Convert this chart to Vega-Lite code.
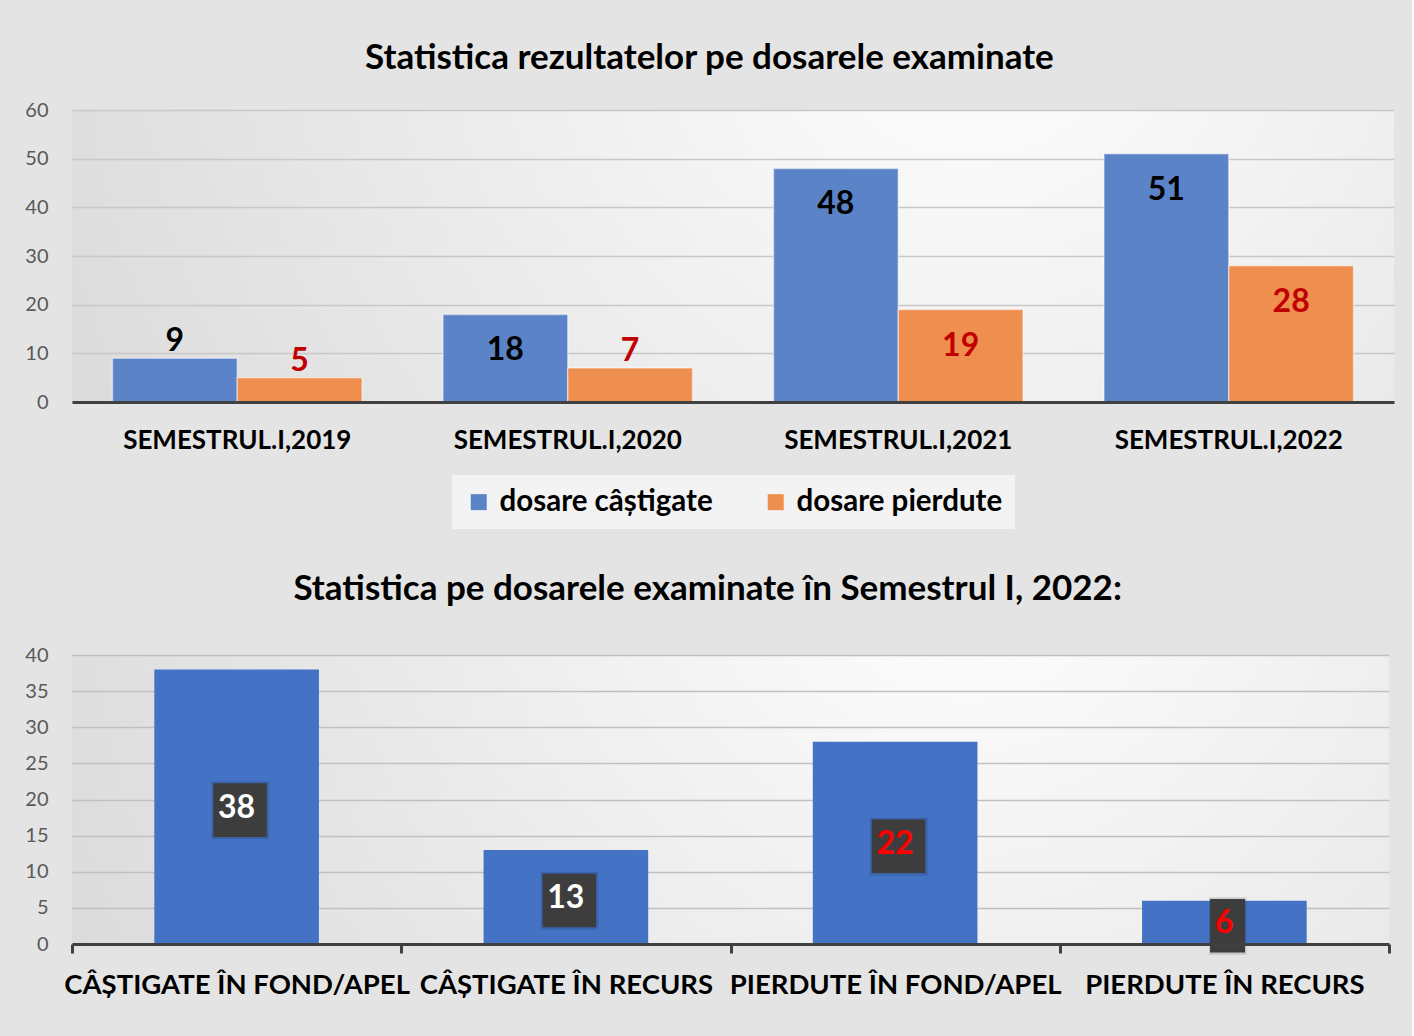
{
  "$schema": "https://vega.github.io/schema/vega-lite/v6.json",
  "background": "#e4e4e4",
  "padding": {"left": 24, "top": 41, "right": 18, "bottom": 40},
  "spacing": 43,
  "config": {
    "font": "Lato",
    "view": {
      "stroke": null,
      "fill": {"gradient": "radial", "x1": 0.68, "y1": 0.3, "r1": 0, "x2": 0.68, "y2": 0.3, "r2": 0.85,
        "stops": [{"offset": 0, "color": "#ffffff"}, {"offset": 1, "color": "#d6d6d6"}]}
    },
    "title": {"font": "Lato", "fontWeight": "bold", "color": "#000000", "anchor": "middle", "frame": "bounds"},
    "legend": {"layout": {"bottom": {"anchor": "middle"}}}
  },
  "resolve": {"scale": {"color": "independent"}, "legend": {"color": "independent"}},
  "datasets": {
    "semestre": [
      {"perioada": "SEMESTRUL.I,2019", "serie": "dosare câștigate", "valoare": 9},
      {"perioada": "SEMESTRUL.I,2019", "serie": "dosare pierdute", "valoare": 5},
      {"perioada": "SEMESTRUL.I,2020", "serie": "dosare câștigate", "valoare": 18},
      {"perioada": "SEMESTRUL.I,2020", "serie": "dosare pierdute", "valoare": 7},
      {"perioada": "SEMESTRUL.I,2021", "serie": "dosare câștigate", "valoare": 48},
      {"perioada": "SEMESTRUL.I,2021", "serie": "dosare pierdute", "valoare": 19},
      {"perioada": "SEMESTRUL.I,2022", "serie": "dosare câștigate", "valoare": 51},
      {"perioada": "SEMESTRUL.I,2022", "serie": "dosare pierdute", "valoare": 28}
    ],
    "categorii": [
      {"categorie": "CÂȘTIGATE ÎN FOND/APEL", "valoare": 38, "eticheta": "38"},
      {"categorie": "CÂȘTIGATE ÎN RECURS", "valoare": 13, "eticheta": "13"},
      {"categorie": "PIERDUTE ÎN FOND/APEL", "valoare": 28, "eticheta": "22"},
      {"categorie": "PIERDUTE ÎN RECURS", "valoare": 6, "eticheta": "6"}
    ]
  },
  "vconcat": [
    {
      "width": 1322,
      "height": 292,
      "title": {"text": "Statistica rezultatelor pe dosarele examinate", "fontSize": 35, "offset": 24},
      "data": {"name": "semestre"},
      "encoding": {
        "x": {"field": "perioada", "type": "nominal", "sort": null,
          "scale": {"paddingInner": 0.245, "paddingOuter": 0.1225},
          "axis": {"title": null, "labelAngle": 0, "labelFontSize": 26, "labelFontWeight": "bold", "labelColor": "#000000",
            "labelPadding": 25, "labelLimit": 400, "ticks": false, "domainColor": "#404040", "domainWidth": 3, "zindex": 1}},
        "xOffset": {"field": "serie", "type": "nominal", "sort": null},
        "y": {"field": "valoare", "type": "quantitative", "scale": {"domain": [0, 60]},
          "axis": {"title": null, "values": [0, 10, 20, 30, 40, 50, 60], "labelFontSize": 20, "labelColor": "#595959",
            "labelPadding": 24, "ticks": false, "domain": false, "gridColor": "#c8c8c8", "gridWidth": 1.5}}
      },
      "layer": [
        {
          "mark": {"type": "bar", "stroke": "#ffffff", "strokeOpacity": 0.45, "strokeWidth": 1.5},
          "encoding": {
            "color": {"field": "serie", "type": "nominal", "sort": null,
              "scale": {"domain": ["dosare câștigate", "dosare pierdute"], "range": ["#5b84c8", "#ef8f4f"]},
              "legend": {"title": null, "orient": "bottom", "direction": "horizontal", "symbolType": "square",
                "symbolSize": 256, "symbolStrokeWidth": 0, "labelFontSize": 29.5, "labelFontWeight": "bold", "labelColor": "#000000",
                "labelLimit": 400, "columnPadding": 48, "offset": 22, "fillColor": "#f3f3f3", "padding": 12, "labelOffset": 6}}
          }
        },
        {
          "transform": [{"filter": "datum.valoare >= 15"}],
          "mark": {"type": "text", "fontSize": 32, "fontWeight": "bold", "baseline": "middle", "dy": 36},
          "encoding": {
            "text": {"field": "valoare", "type": "quantitative"},
            "color": {"condition": {"test": "datum.serie === 'dosare pierdute'", "value": "#c00000"}, "value": "#000000"}
          }
        },
        {
          "transform": [{"filter": "datum.valoare < 15"}],
          "mark": {"type": "text", "fontSize": 32, "fontWeight": "bold", "baseline": "middle", "dy": -17},
          "encoding": {
            "text": {"field": "valoare", "type": "quantitative"},
            "color": {"condition": {"test": "datum.serie === 'dosare pierdute'", "value": "#c00000"}, "value": "#000000"}
          }
        }
      ]
    },
    {
      "width": 1317,
      "height": 289,
      "title": {"text": "Statistica pe dosarele examinate în Semestrul I, 2022:", "fontSize": 35, "offset": 38},
      "data": {"name": "categorii"},
      "encoding": {
        "x": {"field": "categorie", "type": "nominal", "sort": null,
          "scale": {"paddingInner": 0, "paddingOuter": 0},
          "axis": {"title": null, "labelAngle": 0, "labelFontSize": 27.5, "labelFontWeight": "bold", "labelColor": "#000000",
            "labelPadding": 18, "labelLimit": 500, "labelOverlap": false, "ticks": true, "tickBand": "extent", "tickSize": 9, "tickWidth": 3,
            "tickColor": "#404040", "domainColor": "#404040", "domainWidth": 3, "zindex": 1}}
      },
      "layer": [
        {
          "mark": {"type": "bar", "color": "#4472c4", "width": {"band": 0.5}},
          "encoding": {
            "y": {"field": "valoare", "type": "quantitative", "scale": {"domain": [0, 40]},
              "axis": {"title": null, "values": [0, 5, 10, 15, 20, 25, 30, 35, 40], "labelFontSize": 20, "labelColor": "#595959",
                "labelPadding": 24, "ticks": false, "domain": false, "gridColor": "#c0c0c0", "gridWidth": 1.5}}
          }
        },
        {
          "mark": {"type": "point", "filled": true, "opacity": 0.13, "color": "#000000", "size": 3500},
          "encoding": {
            "y": {"field": "valoare", "type": "quantitative", "scale": {"domain": [0, 80]}, "axis": null},
            "shape": {"field": "eticheta", "type": "nominal",
              "scale": {"domain": ["38", "13", "22", "6"], "range": ["M-0.85,-0.85H1.1V1.1H-0.85Z", "M-0.85,-0.85H1.1V1.1H-0.85Z", "M-0.85,-0.85H1.1V1.1H-0.85Z", "M-0.52,-0.85H0.75V1.1H-0.52Z"]},
              "legend": null}
          }
        },
        {
          "mark": {"type": "point", "filled": true, "opacity": 1, "color": "#3d3d3d", "size": 3025},
          "encoding": {
            "y": {"field": "valoare", "type": "quantitative", "scale": {"domain": [0, 80]}, "axis": null},
            "shape": {"field": "eticheta", "type": "nominal",
              "scale": {"domain": ["38", "13", "22", "6"], "range": ["M-1,-1H1V1H-1Z", "M-1,-1H1V1H-1Z", "M-1,-1H1V1H-1Z", "M-0.66,-1H0.66V1H-0.66Z"]},
              "legend": null}
          }
        },
        {
          "mark": {"type": "text", "fontSize": 32, "fontWeight": "bold", "baseline": "middle", "dy": 1},
          "encoding": {
            "y": {"field": "valoare", "type": "quantitative", "scale": {"domain": [0, 80]}, "axis": null},
            "text": {"field": "eticheta", "type": "nominal"},
            "color": {"condition": {"test": "indexof(datum.categorie, 'PIERDUTE') === 0", "value": "#ff0000"}, "value": "#ffffff"}
          }
        }
      ],
      "resolve": {"scale": {"y": "independent"}}
    }
  ]
}
